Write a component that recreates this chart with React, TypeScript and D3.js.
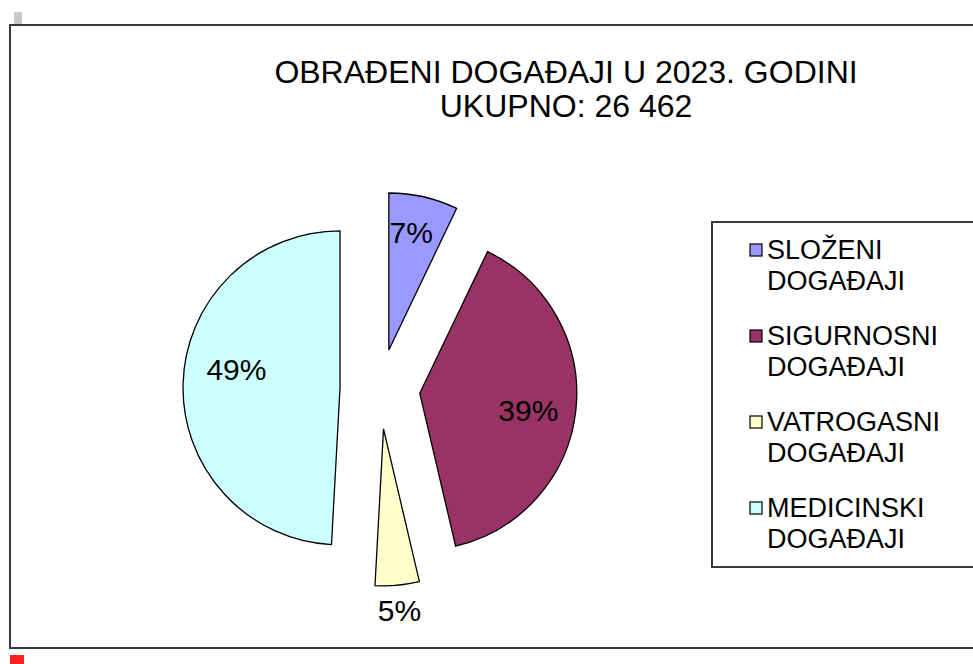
import React from "react";
import * as d3 from "d3";

const categories = ["SLOŽENI DOGAĐAJI", "SIGURNOSNI DOGAĐAJI", "VATROGASNI DOGAĐAJI", "MEDICINSKI DOGAĐAJI"];
const legendLines = [["SLOŽENI", "DOGAĐAJI"], ["SIGURNOSNI", "DOGAĐAJI"], ["VATROGASNI", "DOGAĐAJI"], ["MEDICINSKI", "DOGAĐAJI"]];
const values = [1880, 10380, 1200, 13002];
const colors = ["#9999FF", "#993366", "#FFFFCC", "#CCFFFF"];
const titleLines = ["OBRAĐENI DOGAĐAJI U 2023. GODINI", "UKUPNO: 26 462"];
const labelOutside = [false, false, true, false];
const labelRadius = [0.76, 0.7, 1.16, 0.67];
const labelAngleShift = [-2, 2.6, 0, 8.4];

const W = 973;
const H = 664;
const FONT = "'Liberation Sans', Arial, sans-serif";

export default function App() {
  const cx = 380;
  const cy = 389;
  const r = 157;
  const explode = 40;
  const total = d3.sum(values);
  const pie = d3.pie<number>().sort(null).value((d) => d);
  const arcs = pie(values);
  const arcGen = d3.arc<d3.PieArcDatum<number>>().innerRadius(0).outerRadius(r);
  const fmt = d3.format(".0%");

  return (
    <svg width={W} height={H} style={{ position: "absolute", left: 0, top: 0, background: "#fff" }}>
      <rect x={0} y={0} width={W} height={H} fill="#fff" />
      <rect x={14} y={12} width={8} height={12} fill="#c8c8c8" />
      <rect x={10} y={655} width={14} height={9} fill="#ff2020" />
      <rect x={10} y={25} width={W + 20} height={623} fill="none" stroke="#3a3a3a" strokeWidth={2} />
      <text x={566} y={83} textAnchor="middle" fontFamily={FONT} fontSize={32} fill="#000">{titleLines[0]}</text>
      <text x={566} y={117} textAnchor="middle" fontFamily={FONT} fontSize={32} fill="#000">{titleLines[1]}</text>
      {arcs.map((a, i) => {
        const mid = (a.startAngle + a.endAngle) / 2;
        const ox = cx + explode * Math.sin(mid);
        const oy = cy - explode * Math.cos(mid);
        const la = mid + (labelAngleShift[i] * Math.PI) / 180;
        const lr = labelOutside[i] ? r * labelRadius[i] : r * labelRadius[i];
        const lx = ox + lr * Math.sin(la);
        const ly = oy - lr * Math.cos(la);
        return (
          <g key={categories[i]}>
            <path d={arcGen(a) || ""} transform={`translate(${ox},${oy})`} fill={colors[i]} stroke="#000" strokeWidth={1.3} />
            <text x={lx} y={ly} textAnchor="middle" dominantBaseline="central" fontFamily={FONT} fontSize={30} fill="#000">
              {fmt(values[i] / total)}
            </text>
          </g>
        );
      })}
      <rect x={712} y={222} width={W} height={345} fill="#fff" stroke="#3a3a3a" strokeWidth={2} />
      {legendLines.map((lines, i) => {
        const y0 = 250 + i * 86;
        return (
          <g key={i}>
            <rect x={750} y={y0 - 6} width={12} height={12} fill={colors[i]} stroke="#000" strokeWidth={1.2} />
            {lines.map((t, j) => (
              <text key={j} x={767} y={y0 + j * 31} dominantBaseline="central" fontFamily={FONT} fontSize={27} fill="#000">{t}</text>
            ))}
          </g>
        );
      })}
    </svg>
  );
}
